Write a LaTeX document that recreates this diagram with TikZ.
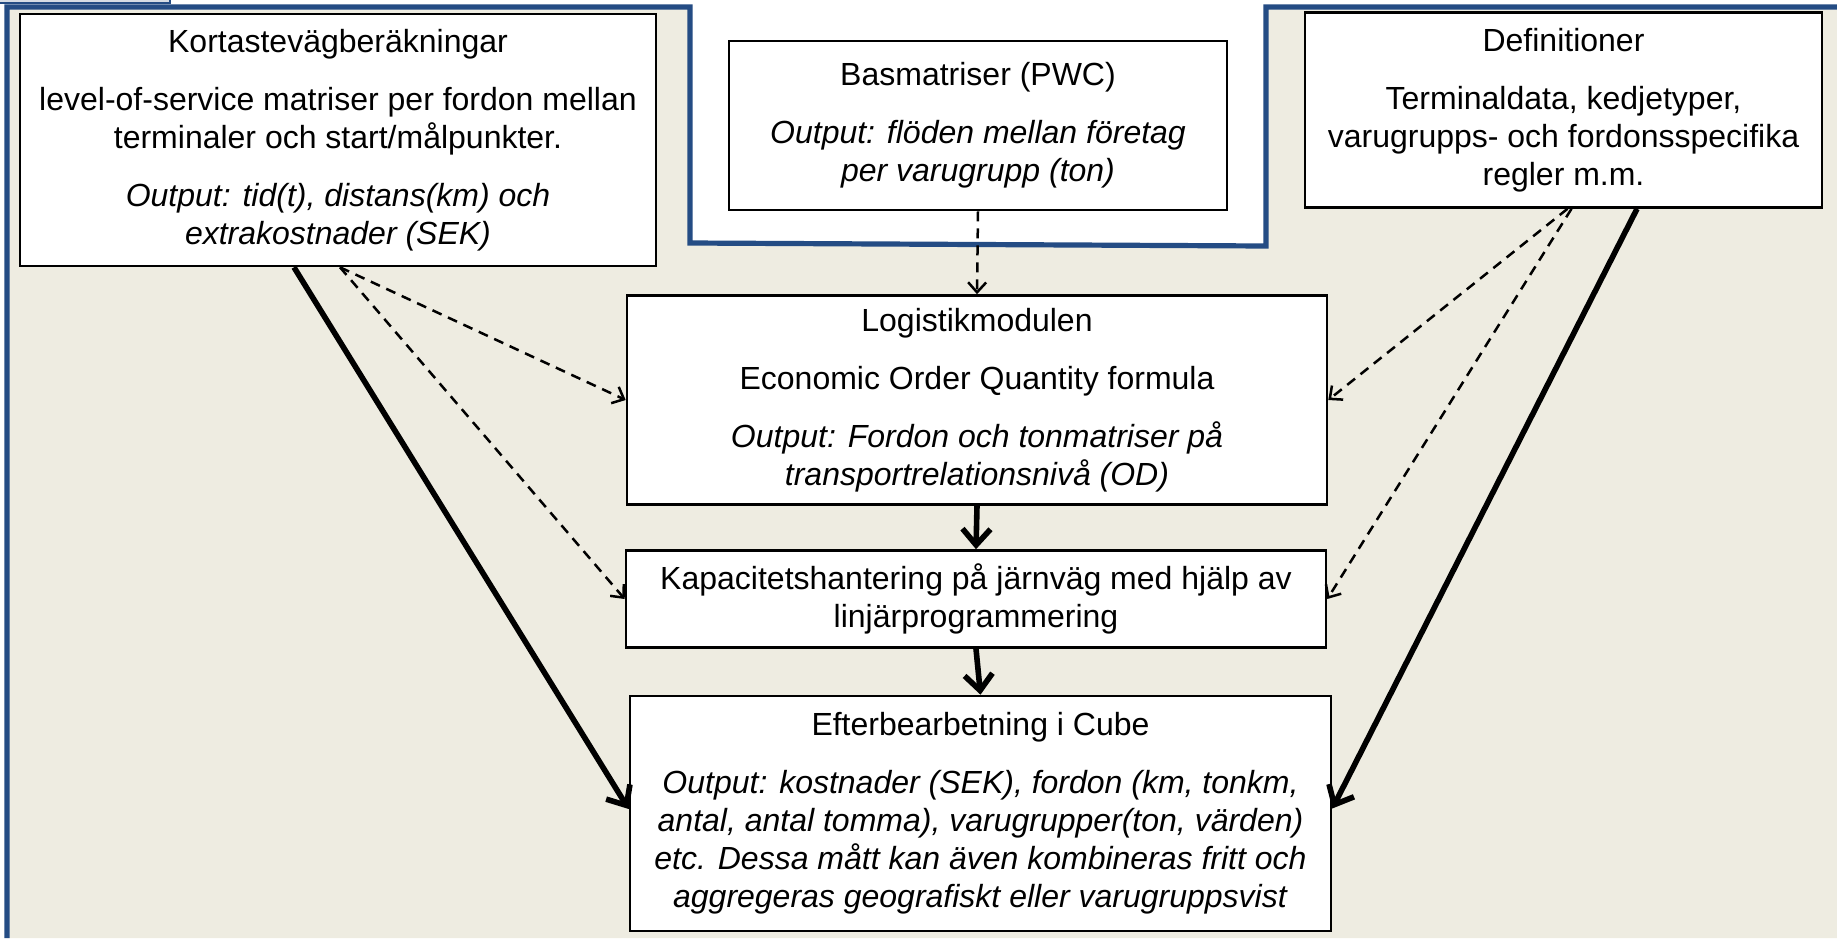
\documentclass[tikz,border=0pt]{standalone}
\usepackage{fontspec}
\setmainfont{Liberation Sans}
\usetikzlibrary{arrows.meta}
\definecolor{frameblue}{RGB}{36,76,132}
\definecolor{bgbeige}{RGB}{238,236,225}
\definecolor{tabgray}{RGB}{214,220,228}
\tikzset{
	box/.style={draw, line width=1.3pt, fill=white, align=center, inner sep=2pt, font=\fontsize{16}{19}\selectfont},
	solidarrow/.style={line width=2.8pt, -{Straight Barb[length=8pt,width=14pt]}},
	dasharrow/.style={line width=1.25pt, dash pattern=on 5pt off 3.5pt, -{Straight Barb[length=5pt,width=9pt]}}
}

\begin{document}
\begin{tikzpicture}[x=0.5pt, y=-0.5pt]
			%%%%% START %%%%%
			
			\useasboundingbox (0, 0) rectangle (1837, 938);
			\fill[white] (0, 0) rectangle (1837, 938);
			
			\fill[bgbeige] (7, 7) -- (690, 7) -- (690, 243) -- (1266, 246) -- (1266, 7) -- (1837, 7) -- (1837, 938) -- (7, 938) -- cycle;
			\draw[line width=2.6pt, color=frameblue] (7, 938) -- (7, 7) -- (690, 7) -- (690, 243) -- (1266, 246) -- (1266, 7) -- (1837, 7);
			\draw[line width=0.8pt, color=frameblue, fill=tabgray] (-2, -2) rectangle (170, 3);
			
			\node[box, minimum width=318pt, minimum height=126pt] (kortaste) at (338, 140) {Kortastevägberäkningar\\[10pt]
				level-of-service matriser per fordon mellan\\ terminaler och start/målpunkter.\\[10pt]
				\textit{Output: tid(t), distans(km) och}\\ \textit{extrakostnader (SEK)}};
			
			\node[box, minimum width=249pt, minimum height=84.5pt] (basmat) at (978, 125.5) {Basmatriser (PWC)\\[10pt]
				\textit{Output: flöden mellan företag}\\ \textit{per varugrupp (ton)}};
			
			\node[box, minimum width=258.5pt, minimum height=97.5pt] (defin) at (1563.5, 110) {Definitioner\\[10pt]
				Terminaldata, kedjetyper,\\ varugrupps- och fordonsspecifika\\ regler m.m.};
			
			\node[box, minimum width=350pt, minimum height=104.5pt] (logistik) at (977, 400) {Logistikmodulen\\[10pt]
				Economic Order Quantity formula\\[10pt]
				\textit{Output: Fordon och tonmatriser på}\\ \textit{transportrelationsnivå (OD)}};
			
			\node[box, minimum width=350pt, minimum height=48.5pt] (kapacitet) at (976, 599) {Kapacitetshantering på järnväg med hjälp av\\ linjärprogrammering};
			
			\node[box, minimum width=350.5pt, minimum height=117.5pt] (efter) at (980.5, 813.5) {Efterbearbetning i Cube\\[10pt]
				\textit{Output: kostnader (SEK), fordon (km, tonkm,}\\ \textit{antal, antal tomma), varugrupper(ton, värden)}\\
				\textit{etc. Dessa mått kan även kombineras fritt och}\\ \textit{aggregeras geografiskt eller varugruppsvist}};
			
			% solid flow
			\draw[solidarrow] ([xshift=-22pt]kortaste.south) -- ([yshift=2.25pt]efter.west);
			\draw[solidarrow] ([xshift=36.75pt]defin.south) -- ([yshift=2.5pt]efter.east);
			\draw[solidarrow] (logistik.south) -- (kapacitet.north);
			\draw[solidarrow] (kapacitet.south) -- (efter.north);
			
			% dashed inputs
			\draw[dasharrow] (basmat.south) -- (logistik.north);
			\draw[dasharrow] ([xshift=1pt]kortaste.south) -- (logistik.west);
			\draw[dasharrow] ([xshift=1pt]kortaste.south) -- (kapacitet.west);
			\draw[dasharrow] ([xshift=2pt]defin.south) -- (logistik.east);
			\draw[dasharrow] ([xshift=4pt]defin.south) -- (kapacitet.east);
			
			%%%%% END %%%%%
		\end{tikzpicture}
\end{document}
